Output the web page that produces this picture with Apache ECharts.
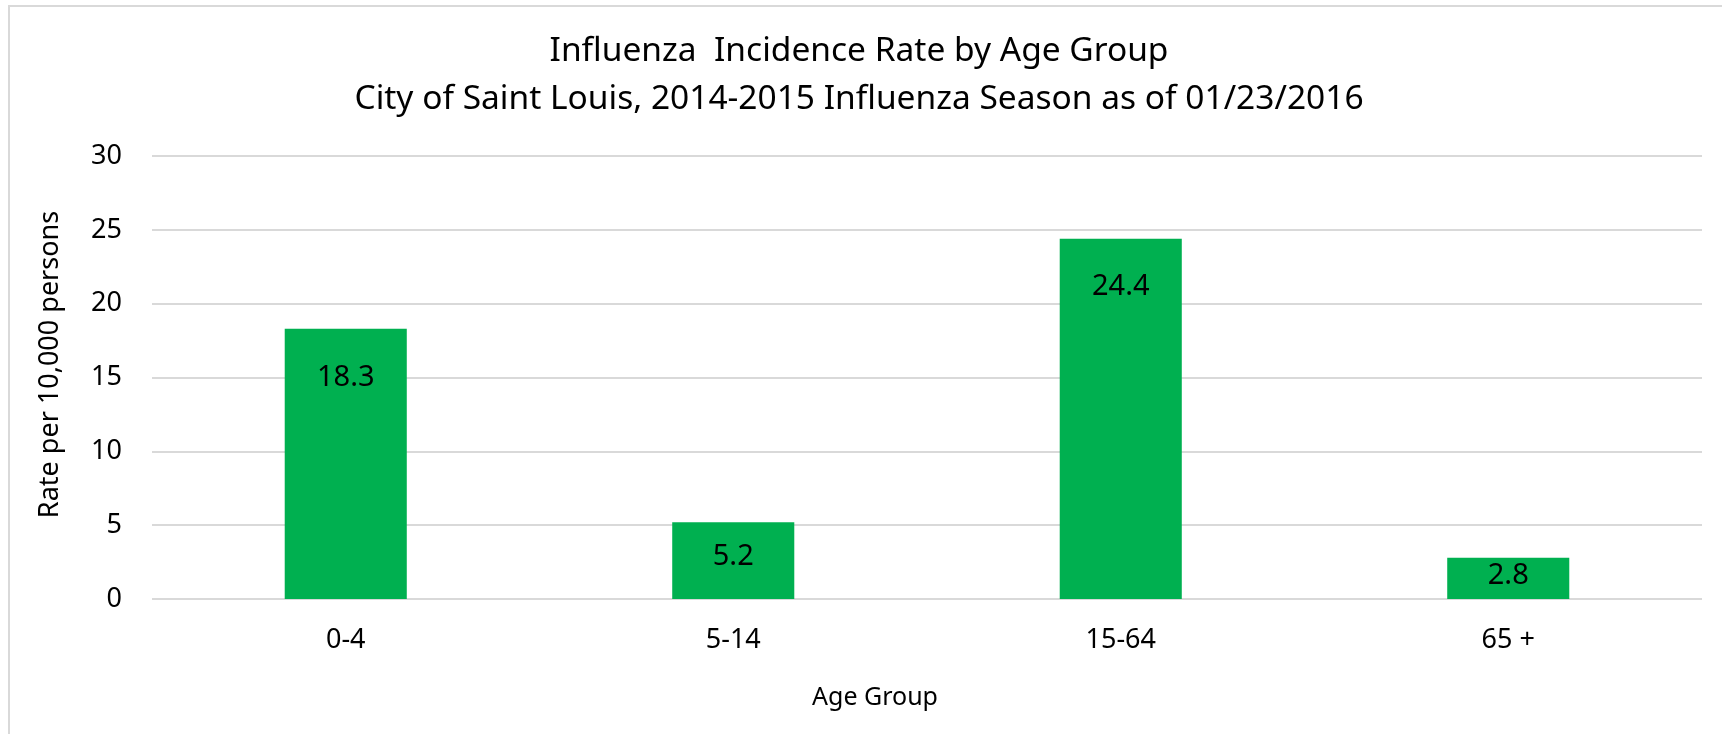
<!DOCTYPE html>
<html>
<head>
<meta charset="utf-8">
<title>Influenza Incidence Rate by Age Group</title>
<script src="https://cdn.jsdelivr.net/npm/echarts@6/dist/echarts.min.js"></script>
<style>
    html, body { margin: 0; padding: 0; background: #fff; }
    #chart { width: 1722px; height: 734px; }
</style>
</head>
<body>
<div id="chart"></div>
<script>
// data
const ageGroups = ['0-4', '5-14', '15-64', '65 +'];
const rates = [18.3, 5.2, 24.4, 2.8];
const yTicks = [0, 5, 10, 15, 20, 25, 30];

const font = '"Noto Sans", "Open Sans", sans-serif';
const pxPerUnit = 443 / 30;   // plot height / axis range

// excel pulls the label up when the bar is short
let barData = rates.map((v) => {
    let h = v * pxPerUnit;
    let d = Math.max(1, Math.min(34, h * 0.45 - 15));
    return { value: v, label: { distance: d } };
});

const chart = echarts.init(document.getElementById('chart'));
chart.setOption({
    backgroundColor: '#fff',
    animation: false,
    graphic: [
        {
            type: 'rect',
            shape: { x: 9, y: 6, width: 1800, height: 800 },
            style: { fill: 'none', stroke: '#d9d9d9', lineWidth: 2 },
            silent: true
        }
    ],
    title: [
        {
            text: 'Influenza  Incidence Rate by Age Group\nCity of Saint Louis, 2014-2015 Influenza Season as of 01/23/2016',
            left: 854,
            top: 22,
            textAlign: 'center',
            textStyle: {
                fontFamily: font,
                fontWeight: 'normal',
                fontSize: 33.5,
                lineHeight: 48,
                color: '#000'
            }
        },
        {
            text: 'Age Group',
            left: 870,
            top: 680,
            textAlign: 'center',
            textStyle: {
                fontFamily: font,
                fontWeight: 'normal',
                fontSize: 25,
                color: '#000'
            }
        }
    ],
    grid: {
        left: 152,
        right: 20,
        top: 156,
        bottom: 135,
        containLabel: false
    },
    xAxis: {
        type: 'category',
        data: ageGroups,
        axisLine: { show: false },
        axisTick: { show: false },
        axisLabel: {
            color: '#000',
            fontFamily: font,
            fontSize: 27,
            margin: 28
        }
    },
    yAxis: {
        type: 'value',
        min: yTicks[0],
        max: yTicks[yTicks.length - 1],
        interval: 5,
        name: 'Rate per 10,000 persons',
        nameLocation: 'middle',
        nameGap: 88,
        nameTextStyle: {
            color: '#000',
            fontFamily: font,
            fontSize: 27,
            padding: [0, 0, 0, 26]
        },
        axisLine: { show: false },
        axisTick: { show: false },
        axisLabel: {
            color: '#000',
            fontFamily: font,
            fontSize: 27,
            margin: 30
        },
        splitLine: {
            lineStyle: { color: '#d9d9d9', width: 2 }
        }
    },
    series: [
        {
            name: 'Rate',
            type: 'bar',
            data: barData,
            barWidth: '31.5%',
            itemStyle: { color: '#00b050' },
            label: {
                show: true,
                position: 'insideTop',
                color: '#000',
                fontFamily: font,
                fontSize: 29
            }
        }
    ]
});
</script>
</body>
</html>
